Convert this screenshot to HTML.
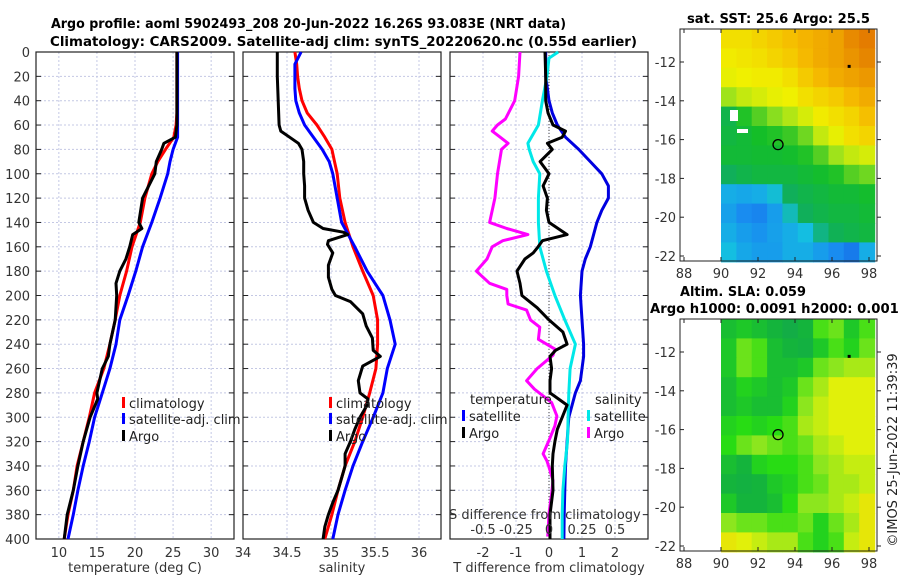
<!DOCTYPE html>
<html><head><meta charset="utf-8"><style>
html,body{margin:0;padding:0;background:#fff;width:900px;height:580px;overflow:hidden}
svg{display:block;font-family:"DejaVu Sans","Liberation Sans",sans-serif}
</style></head><body>
<svg id="chart" width="900" height="580" viewBox="0 0 900 580">
<g id="titles">
<text x="51" y="28" textLength="515" lengthAdjust="spacingAndGlyphs" font-size="13" font-weight="bold" fill="#000">Argo profile: aoml 5902493_208 20-Jun-2022 16.26S 93.083E (NRT data)</text>
<text x="50" y="46" textLength="587" lengthAdjust="spacingAndGlyphs" font-size="13" font-weight="bold" fill="#000">Climatology: CARS2009. Satellite-adj clim: synTS_20220620.nc (0.55d earlier)</text>
<text x="687" y="23" textLength="183" lengthAdjust="spacingAndGlyphs" font-size="13" font-weight="bold" fill="#000">sat. SST: 25.6 Argo: 25.5</text>
<text x="680" y="296" textLength="126" lengthAdjust="spacingAndGlyphs" font-size="13" font-weight="bold" fill="#000">Altim. SLA: 0.059</text>
<text x="650" y="313" textLength="258" lengthAdjust="spacingAndGlyphs" font-size="13" font-weight="bold" fill="#000">Argo h1000: 0.0091 h2000: 0.0011</text>
<text transform="translate(897,450) rotate(-90)" text-anchor="middle" font-size="13" fill="#222">©IMOS 25-Jun-2022 11:39:39</text>
</g>
</svg>
<script>
// ---------- data ----------
const climDepth = [0,10,20,30,40,50,60,70,80,90,100,120,140,160,180,200,220,240,260,280,300,320,340,360,380,400];
const climTemp  = [25.5,25.5,25.5,25.5,25.5,25.5,25.4,25.1,24.0,23.0,22.2,21.3,20.7,19.6,18.9,18.0,17.4,16.7,15.9,14.7,14.0,13.2,12.4,11.9,11.2,10.7];
const satTemp   = [25.6,25.6,25.6,25.6,25.6,25.6,25.6,25.6,25.0,24.6,24.3,23.3,22.2,21.0,20.1,19.1,18.0,17.5,16.7,15.7,14.7,14.0,13.2,12.5,11.9,11.2];
const climSal   = [34.59,34.61,34.62,34.64,34.67,34.73,34.84,34.93,35.01,35.04,35.07,35.10,35.16,35.25,35.36,35.48,35.53,35.53,35.51,35.44,35.36,35.27,35.16,35.08,35.01,34.93];
const satSal    = [34.66,34.59,34.59,34.59,34.60,34.64,34.70,34.80,34.90,34.98,35.02,35.07,35.12,35.27,35.41,35.59,35.67,35.73,35.64,35.59,35.48,35.36,35.25,35.16,35.08,35.02];

const argoTDepth = [0,20,40,60,70,75,80,90,100,120,140,145,150,160,170,180,190,200,220,240,250,260,280,285,300,320,340,360,380,400];
const argoTemp   = [25.5,25.5,25.5,25.5,25.3,23.8,23.5,22.8,22.6,21.0,20.5,20.9,19.7,19.3,18.8,18.0,17.5,17.6,17.4,16.7,16.5,15.7,15.0,15.1,14.1,13.2,12.5,11.9,11.1,10.7];
const argoSDepth = [0,20,40,60,65,70,75,80,90,100,110,120,130,140,145,148,150,155,158,165,175,185,195,200,205,215,225,235,245,250,258,270,280,285,290,300,310,320,330,340,350,360,370,380,390,400];
const argoSal    = [34.39,34.39,34.40,34.41,34.43,34.53,34.63,34.67,34.69,34.69,34.70,34.70,34.74,34.80,34.91,35.14,35.19,34.97,34.96,35.02,34.97,34.97,35.01,35.05,35.22,35.36,35.40,35.47,35.48,35.56,35.36,35.31,35.33,35.42,35.41,35.33,35.27,35.22,35.16,35.16,35.12,35.08,35.02,34.97,34.93,34.91];

const diffDepth  = [0,10,20,30,40,50,60,70,80,90,100,110,120,130,140,160,170,180,200,220,240,250,260,270,280,290,300,320,340,360,380,400];
const satTDiff   = [-0.1,-0.1,-0.1,-0.05,0,0.1,0.25,0.5,0.9,1.25,1.6,1.8,1.8,1.6,1.45,1.25,1.1,1.0,0.95,1.0,1.05,1.05,1.0,0.95,0.8,0.7,0.6,0.55,0.5,0.48,0.46,0.45];
const cyanDepth  = [0,5,20,40,60,75,80,90,100,120,140,160,180,200,220,240,260,280,300,320,340,360,380,400];
const satSDiff   = [0.07,0.0,-0.015,-0.05,-0.08,-0.16,-0.15,-0.12,-0.07,-0.08,-0.08,-0.07,-0.02,0.045,0.12,0.2,0.16,0.15,0.145,0.14,0.12,0.105,0.1,0.1];
const argoTDDepth = [0,20,40,50,60,65,70,75,80,90,100,110,120,130,140,150,155,160,165,170,180,190,200,210,220,230,240,245,250,260,270,280,290,300,310,320,330,340,360,380,400];
const argoTDiff   = [-0.12,-0.1,-0.1,-0.03,0.12,0.5,0.4,-0.05,0.1,-0.27,0,-0.18,-0.05,-0.08,0,0.55,-0.2,-0.33,-0.48,-0.73,-0.97,-0.88,-0.82,-0.36,0,0.42,0.55,0.2,0.03,0.08,0.03,0.03,0.55,0.4,0.25,0.18,0.12,0.1,0.12,0.03,0.03];
const argoSDDepth = [0,20,40,55,60,65,70,75,80,100,120,140,145,150,155,160,170,180,190,195,200,207,212,220,226,236,244,249,260,270,277,288,299,307,319,330,336,341,352,363,379,398];
const argoSDiff   = [-0.22,-0.23,-0.26,-0.33,-0.39,-0.43,-0.37,-0.31,-0.36,-0.39,-0.41,-0.45,-0.32,-0.16,-0.35,-0.43,-0.47,-0.55,-0.45,-0.32,-0.32,-0.31,-0.17,-0.14,-0.07,-0.08,0.045,0.03,-0.09,-0.17,-0.11,0.02,0.06,0.045,0.0,-0.045,-0.015,0.0,0.03,0.02,0.0,-0.01];

const depthTicks = [0,20,40,60,80,100,120,140,160,180,200,220,240,260,280,300,320,340,360,380,400];
const tempTicks = [10,15,20,25,30];
const salTicks = [34,34.5,35,35.5,36];
const tdiffTicks = [-2,-1,0,1,2];
const sdiffTicks = [-0.5,-0.25,0,0.25,0.5];
const sdiffLabels = ["-0.5","-0.25","0","0.25","0.5"];
const lonTicks = [88,90,92,94,96,98];
const latTicks = [-12,-14,-16,-18,-20,-22];

// SST normalized grid (rows lat -10.3 -> -22.3, cols lon 90 -> 98.3)
const sstGrid = [
[0.78,0.78,0.80,0.82,0.84,0.86,0.88,0.90,0.95,0.98],
[0.76,0.77,0.78,0.80,0.82,0.85,0.88,0.90,0.93,0.96],
[0.74,0.75,0.76,0.76,0.78,0.82,0.85,0.88,0.90,0.92],
[0.66,0.70,0.72,0.74,0.75,0.78,0.80,0.82,0.85,0.88],
[0.48,0.56,0.60,0.64,0.68,0.72,0.76,0.78,0.80,0.84],
[0.50,0.52,0.55,0.56,0.58,0.62,0.70,0.74,0.78,0.80],
[0.52,0.52,0.53,0.53,0.54,0.56,0.60,0.66,0.70,0.72],
[0.45,0.48,0.50,0.50,0.50,0.52,0.54,0.56,0.60,0.62],
[0.30,0.28,0.30,0.36,0.45,0.48,0.50,0.52,0.52,0.54],
[0.26,0.20,0.18,0.25,0.38,0.45,0.48,0.50,0.50,0.52],
[0.30,0.25,0.22,0.26,0.30,0.35,0.42,0.46,0.48,0.50],
[0.35,0.28,0.25,0.25,0.30,0.30,0.25,0.20,0.15,0.30]];
const slaGrid = [
[0.35,0.40,0.35,0.30,0.20,0.30,0.55,0.60,0.40,0.55],
[0.40,0.60,0.55,0.35,0.30,0.25,0.40,0.55,0.45,0.60],
[0.40,0.60,0.55,0.35,0.35,0.40,0.60,0.65,0.70,0.70],
[0.35,0.45,0.40,0.35,0.40,0.60,0.70,0.80,0.80,0.80],
[0.35,0.40,0.35,0.35,0.45,0.65,0.75,0.80,0.80,0.80],
[0.45,0.50,0.45,0.50,0.55,0.70,0.75,0.80,0.80,0.80],
[0.50,0.60,0.65,0.60,0.55,0.60,0.70,0.75,0.80,0.80],
[0.35,0.30,0.45,0.50,0.50,0.55,0.65,0.70,0.75,0.75],
[0.30,0.25,0.30,0.40,0.45,0.55,0.60,0.70,0.70,0.75],
[0.40,0.30,0.30,0.35,0.50,0.65,0.65,0.70,0.75,0.85],
[0.65,0.60,0.60,0.55,0.55,0.60,0.45,0.60,0.70,0.85],
[0.85,0.80,0.75,0.70,0.70,0.55,0.45,0.55,0.75,0.85]];
const argoLon = 93.083, argoLat = -16.26;

// ---------- drawing ----------
const NS = "http://www.w3.org/2000/svg";
const svg = document.getElementById('chart');
function mk(tag, attrs, parent){ const e=document.createElementNS(NS,tag); for(const k in attrs) e.setAttribute(k,attrs[k]); (parent||svg).appendChild(e); return e; }

const TOP=52, BOT=539;
const yD = d => TOP + d*(BOT-TOP)/400;

const panels = [
 {name:'temperature-panel', x0:36, x1:234, min:7, max:33, ticks:tempTicks},
 {name:'salinity-panel', x0:243, x1:441, min:34, max:36.25, ticks:salTicks},
 {name:'difference-panel', x0:450, x1:648, min:-3, max:3, ticks:tdiffTicks}
];
panels.forEach(p => { p.sx = v => p.x0 + (v-p.min)*(p.x1-p.x0)/(p.max-p.min); });

function drawPanel(p, idx){
  const g = mk('g',{});
  
  
  depthTicks.forEach(d=>{
    const l=mk('line',{x1:p.x0,x2:p.x1,y1:yD(d),y2:yD(d),stroke:'#c4c8e4','stroke-width':1,'stroke-dasharray':'2,2'},g);
    
    
    const t1=mk('line',{x1:p.x0,x2:p.x0+5,y1:yD(d),y2:yD(d),stroke:'#222'},g);
    
    
    const t2=mk('line',{x1:p.x1-5,x2:p.x1,y1:yD(d),y2:yD(d),stroke:'#222'},g);
    
    
  });
  p.ticks.forEach((v,i)=>{
    const x=p.sx(v);
    const l=mk('line',{x1:x,x2:x,y1:TOP,y2:BOT,stroke:'#c4c8e4','stroke-width':1,'stroke-dasharray':'2,2'},g);
    
    
    const t=mk('text',{x:x,y:BOT+18,'text-anchor':'middle','font-size':13,fill:'#333'},g);
    t.textContent = String(v);
    
    
  });
  const fr=mk('rect',{x:p.x0,y:TOP,width:p.x1-p.x0,height:BOT-TOP,fill:'none',stroke:'#222','stroke-width':1.2},g);
  
  
  return g;
}
const pg = panels.map(drawPanel);

depthTicks.forEach(d=>{
  const t=mk('text',{x:30,y:yD(d)+5,'text-anchor':'end','font-size':13,fill:'#333'});
  t.textContent=String(d);
  
  
});

function line(g, depths, vals, sx, color, name){
  const pts = depths.map((d,i)=> sx(vals[i]).toFixed(1)+','+yD(d).toFixed(1)).join(' ');
  const pl = mk('polyline',{points:pts,fill:'none',stroke:color,'stroke-width':3,'stroke-linejoin':'round'},g);
  
  
}
const P0=panels[0], P1=panels[1], P2=panels[2];
line(pg[0], climDepth, climTemp, P0.sx, '#ff0000', 'climatology-temperature-line');
line(pg[0], climDepth, satTemp, P0.sx, '#0000ff', 'satellite-temperature-line');
line(pg[0], argoTDepth, argoTemp, P0.sx, '#000000', 'argo-temperature-line');
line(pg[1], climDepth, climSal, P1.sx, '#ff0000', 'climatology-salinity-line');
line(pg[1], climDepth, satSal, P1.sx, '#0000ff', 'satellite-salinity-line');
line(pg[1], argoSDepth, argoSal, P1.sx, '#000000', 'argo-salinity-line');
const zl = mk('line',{x1:P2.sx(0),x2:P2.sx(0),y1:TOP,y2:BOT,stroke:'#444','stroke-width':1,'stroke-dasharray':'1,2'},pg[2]);


const sxS = v => P2.sx(v*4);
line(pg[2], diffDepth, satTDiff, P2.sx, '#0000e0', 'satellite-temperature-difference-line');
line(pg[2], cyanDepth, satSDiff, sxS, '#00e8e8', 'satellite-salinity-difference-line');
line(pg[2], argoSDDepth, argoSDiff, sxS, '#ff00ff', 'argo-salinity-difference-line');
line(pg[2], argoTDDepth, argoTDiff, P2.sx, '#000000', 'argo-temperature-difference-line');

function txt(x,y,s,name,opts){ const t=mk('text',Object.assign({x:x,y:y,'font-size':13,fill:'#333'},opts||{})); t.textContent=s;   return t; }
txt(135,572,'temperature (deg C)','x-axis-title-temperature',{'text-anchor':'middle'});
txt(342,572,'salinity','x-axis-title-salinity',{'text-anchor':'middle'});
txt(549,572,'T difference from climatology','x-axis-title-t-difference',{'text-anchor':'middle'});
txt(449,519,'S difference from climatology','s-difference-axis-title',{});
sdiffTicks.forEach((v,i)=>{ txt(sxS(v),534,sdiffLabels[i],'s-difference-tick-label',{'text-anchor':'middle'}); });

function legend(x,y,color,label,name){
  const g=mk('g',{});
  
  
  mk('rect',{x:x,y:y-11,width:3,height:11,fill:color},g);
  const t=mk('text',{x:x+7,y:y,'font-size':13,fill:'#222'},g); t.textContent=label;
}
[[0,122],[1,329]].forEach(([i,x])=>{
  legend(x,408,'#ff0000','climatology','legend-entry-climatology');
  legend(x,424,'#0000ff','satellite-adj. clim','legend-entry-satellite-adj');
  legend(x,441,'#000000','Argo','legend-entry-argo');
});
txt(470,404,'temperature','legend-heading-temperature',{fill:'#222'});
legend(462,421,'#0000ff','satellite','legend-entry-temperature-satellite');
legend(462,438,'#000000','Argo','legend-entry-temperature-argo');
txt(595,404,'salinity','legend-heading-salinity',{fill:'#222'});
legend(587,421,'#00e8e8','satellite','legend-entry-salinity-satellite');
legend(587,438,'#ff00ff','Argo','legend-entry-salinity-argo');

// ---------- maps ----------
function lerpColor(stops, v){
  v=Math.max(0,Math.min(1,v));
  for(let i=1;i<stops.length;i++){ if(v<=stops[i][0]){ const a=stops[i-1],b=stops[i],t=(v-a[0])/(b[0]-a[0]); return 'rgb('+[0,1,2].map(k=>Math.round(a[1][k]+(b[1][k]-a[1][k])*t)).join(',')+')'; } }
  const s=stops[stops.length-1][1]; return 'rgb('+s.join(',')+')';
}
const sstStops=[[0,[16,70,220]],[0.2,[25,140,240]],[0.35,[20,190,225]],[0.45,[16,175,90]],[0.55,[20,190,40]],[0.65,[150,225,30]],[0.75,[240,240,0]],[0.85,[245,185,0]],[1,[225,115,0]]];
const slaStops=[[0,[16,160,90]],[0.3,[20,180,60]],[0.5,[40,220,20]],[0.65,[140,230,30]],[0.8,[225,240,10]],[1,[245,200,0]]];

function drawMap(y0, grid, stops, name){
  const X0=680,X1=877,Y1=y0+232;
  const sx = lon => 721 + (lon-90)*18.5;
  const sy = lat => y0 + 33 + (-12-lat)*19.4;
  const g=mk('g',{});
  
  
  const rows=grid.length, cols=grid[0].length;
  const lonW=(98.3-90)/cols, latH=12/rows;
  grid.forEach((row,r)=>row.forEach((v,c)=>{
    const xa=sx(90+c*lonW), xb=sx(90+(c+1)*lonW);
    const ya=sy(-10.3-r*latH), yb=sy(-10.3-(r+1)*latH);
    const cell=mk('rect',{x:xa.toFixed(1),y:ya.toFixed(1),width:(xb-xa+0.6).toFixed(1),height:(yb-ya+0.6).toFixed(1),fill:lerpColor(stops,v)},g);
    
    
  }));
  const fr=mk('rect',{x:X0,y:y0,width:X1-X0,height:232,fill:'none',stroke:'#222','stroke-width':1},g);
  
  
  lonTicks.forEach(l=>{
    mk('line',{x1:sx(l),x2:sx(l),y1:Y1,y2:Y1-4,stroke:'#222'},g);
    mk('line',{x1:sx(l),x2:sx(l),y1:y0,y2:y0+4,stroke:'#222'},g);
    const t=mk('text',{x:sx(l),y:Y1+17,'text-anchor':'middle','font-size':13,fill:'#333'},g); t.textContent=String(l);
    
    
  });
  latTicks.forEach(l=>{
    mk('line',{x1:X0,x2:X0+4,y1:sy(l),y2:sy(l),stroke:'#222'},g);
    mk('line',{x1:X1,x2:X1+4,y1:sy(l),y2:sy(l),stroke:'#222'},g);
    const t=mk('text',{x:X0-4,y:sy(l)+5,'text-anchor':'end','font-size':13,fill:'#333'},g); t.textContent=String(l);
    
    
  });
  const m=mk('circle',{cx:sx(argoLon),cy:sy(argoLat),r:5,fill:'none',stroke:'#000','stroke-width':1.3},g);
  
  
  mk('rect',{x:sx(96.9)-1,y:sy(-12.2)-1,width:3,height:3,fill:'#000'},g);
}
drawMap(29, sstGrid, sstStops, 'sst-map');
drawMap(319, slaGrid, slaStops, 'sla-map');
mk('rect',{x:730,y:110,width:8,height:11,fill:'#fff'});
mk('rect',{x:737,y:129,width:11,height:4,fill:'#fff'});
</script>
</body></html>
